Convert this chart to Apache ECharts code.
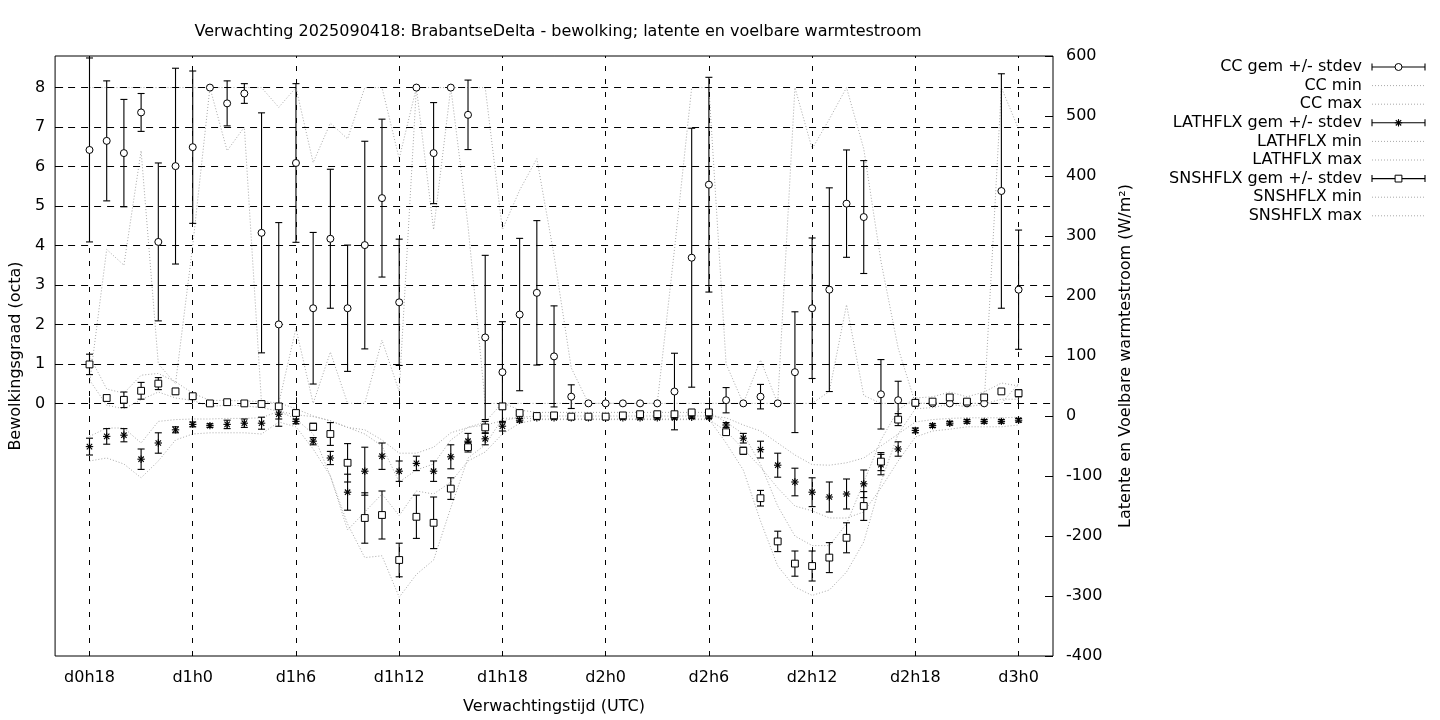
<!DOCTYPE html>
<html><head><meta charset="utf-8">
<script src="https://cdn.jsdelivr.net/npm/echarts@6/dist/echarts.min.js"></script>
<style>html,body{margin:0;padding:0;background:#fff}#c{width:1440px;height:720px}</style>
</head><body><div id="c"></div>
<script>
// ---------------- data ----------------
const hours = [18,19,20,21,22,23,24,25,26,27,28,29,30,31,32,33,34,35,36,37,38,39,40,41,42,43,44,45,46,47,48,49,50,51,52,53,54,55,56,57,58,59,60,61,62,63,64,65,66,67,68,69,70,71,72];
const tickHours = [18,24,30,36,42,48,54,60,66,72];
const tickLabels = ['d0h18','d1h0','d1h6','d1h12','d1h18','d2h0','d2h6','d2h12','d2h18','d3h0'];
const ccTicks = [0,1,2,3,4,5,6,7,8];

const ccMean = [6.42,6.65,6.34,7.37,4.09,6.01,6.49,8.00,7.60,7.85,4.32,2.00,6.09,2.41,4.17,2.41,4.01,5.20,2.56,8.00,6.34,8.00,7.31,1.67,0.79,2.25,2.80,1.19,0.17,0,0,0,0,0,0.30,3.69,5.54,0.08,0,0.17,0,0.79,2.41,2.88,5.06,4.72,0.23,0.08,0,0,0,0,0,5.38,2.88];
const ccSd   = [2.33,1.52,1.36,0.48,2.00,2.48,1.93,0,0.57,0.25,3.04,2.58,2.01,1.92,1.76,1.60,2.63,2.00,1.60,0,1.28,0,0.88,2.08,1.28,1.93,1.83,1.28,0.30,0,0,0,0,0,0.97,3.28,2.72,0.32,0,0.31,0,1.53,1.78,2.58,1.36,1.43,0.88,0.48,0,0,0,0,0,2.97,1.51];
const ccMin  = [0.5,3.9,3.5,6.4,1.0,0.5,4.0,8,6.4,7.0,0,0,1.9,0,1.3,0,0,1.6,0.3,8,4.4,8,4.5,0,0,0,0,0,0,0,0,0,0,0,0,0,0,0,0,0,0,0,0,0.3,2.5,0.2,0,0,0,0,0,0,0,0,0.5];
const ccMax  = [8,8,8,8,8,8,8,8,8,8,8,7.5,8,6.1,7.1,6.7,8,8,6.2,8,8,8,8,8,4.4,5.4,6.2,3.75,0.9,0,0,0,0,0,3.9,8,8,1.0,0,1.1,0,8,6.45,7.2,8,6.45,3.6,1.4,0,0,0,0,0,8,6.95];

const latMean = [-51,-34,-32,-72,-45,-23,-14,-16,-14,-12,-12,3,-9,-42,-70,-127,-92,-67,-92,-79,-92,-68,-42,-38,-17,-7,-3,-3,-3,-3,-3,-3,-3,-3,-3,-2,-2,-15,-37,-56,-82,-110,-127,-135,-130,-113,-81,-55,-24,-16,-12,-9,-9,-9,-7];
const latSd   = [14,13,11,17,17,5,4,3,7,7,10,8,4,6,11,30,40,22,17,12,17,20,13,10,8,3,2,2,2,2,2,2,2,2,2,2,2,4,8,14,20,23,24,25,25,23,17,12,4,3,3,3,3,3,3];
const latMin  = [-75,-70,-80,-103,-75,-40,-30,-28,-28,-28,-30,-10,-18,-55,-100,-190,-160,-130,-166,-125,-130,-110,-75,-60,-30,-12,-6,-6,-6,-6,-6,-6,-6,-6,-6,-6,-6,-25,-55,-85,-120,-150,-158,-170,-170,-160,-120,-75,-35,-25,-22,-18,-18,-18,-15];
const latMax  = [-34,-20,-20,-45,-9,-6,-5,-5,-4,-4,-3,8,2,-1,-8,-19,-23,-40,-62,-62,-52,-28,-19,-15,-8,-2,0,0,0,0,0,0,0,0,0,0,0,-3,-15,-25,-45,-65,-81,-82,-78,-70,-50,-30,-10,-6,-4,-3,-3,-3,-2];

const snsMean = [86,30,27,42,54,41,33,21,23,21,20,16,5,-18,-30,-78,-170,-165,-240,-168,-178,-121,-52,-19,16,5,0,1,-1,-1,-1,1,3,3,3,6,6,-27,-58,-137,-209,-246,-250,-236,-203,-150,-76,-6,22,24,31,24,31,41,38];
const snsSd   = [17,5,13,14,10,5,4,3,3,3,4,4,4,6,19,32,42,40,28,36,43,18,8,10,5,3,2,2,2,2,2,2,2,2,2,2,2,4,6,13,17,21,25,25,25,24,15,10,3,3,4,3,4,3,6];
const snsMin  = [60,18,12,27,40,30,26,16,18,17,14,8,-5,-30,-100,-180,-236,-233,-302,-264,-240,-153,-70,-48,-4,-3,-5,-5,-5,-5,-5,-5,-5,-5,-5,-5,-5,-45,-90,-175,-250,-285,-299,-290,-260,-210,-110,-30,12,14,20,15,20,28,28];
const snsMax  = [100,45,38,68,71,57,38,26,26,25,24,22,12,0,-8,-19,-30,-50,-110,-90,-80,-40,-19,-10,22,10,6,6,6,6,6,6,6,6,6,6,6,-10,-30,-80,-150,-200,-216,-216,-180,-110,-40,10,30,32,40,32,40,55,50];

const titleText = 'Verwachting 2025090418: BrabantseDelta - bewolking; latente en voelbare warmtestroom';
const legendNames = ['CC gem +/- stdev','CC min','CC max','LATHFLX gem +/- stdev','LATHFLX min','LATHFLX max','SNSHFLX gem +/- stdev','SNSHFLX min','SNSHFLX max'];

// ---------------- helpers ----------------
const FONT = 'DejaVu Sans';
const FS = 16;
const DOT = '#a8a8a8';
const DOTTYPE = [1, 2];

function markerShape(kind, x, y) {
  const st = {stroke:'#000', lineWidth:1, fill:'#fff'};
  if (kind === 'circle') return {type:'circle', shape:{cx:x, cy:y, r:3.5}, style:st};
  if (kind === 'square') return {type:'rect', shape:{x:x-3.4, y:y-3.4, width:6.8, height:6.8}, style:st};
  const r = 3.7, d = 2.7, ls = {stroke:'#000', lineWidth:1.1};
  return {type:'group', children:[
    {type:'line', shape:{x1:x-r,y1:y,x2:x+r,y2:y}, style:ls},
    {type:'line', shape:{x1:x,y1:y-r,x2:x,y2:y+r}, style:ls},
    {type:'line', shape:{x1:x-d,y1:y-d,x2:x+d,y2:y+d}, style:ls},
    {type:'line', shape:{x1:x-d,y1:y+d,x2:x+d,y2:y-d}, style:ls}
  ]};
}
function makeRender(kind) {
  return function (params, api) {
    const x = api.value(0), m = api.value(1), s = api.value(2);
    const c = api.coord([x, m]);
    const kids = [];
    if (s > 0) {
      const t = api.coord([x, m + s])[1], b = api.coord([x, m - s])[1];
      const st = {stroke:'#000', lineWidth:1.1};
      kids.push({type:'line', shape:{x1:c[0],y1:t,x2:c[0],y2:b}, style:st});
      kids.push({type:'line', shape:{x1:c[0]-3.5,y1:t,x2:c[0]+3.5,y2:t}, style:st});
      kids.push({type:'line', shape:{x1:c[0]-3.5,y1:b,x2:c[0]+3.5,y2:b}, style:st});
    }
    kids.push(markerShape(kind, c[0], c[1]));
    return {type:'group', children:kids};
  };
}
const pairs = arr => hours.map((h, i) => [h, arr[i]]);
const triples = (m, s) => hours.map((h, i) => [h, m[i], s[i]]);
const lineSeries = (name, arr, yIdx, extra) => Object.assign({
  name, type:'line', data:pairs(arr), yAxisIndex:yIdx, showSymbol:false, symbol:'none',
  lineStyle:{color:DOT, width:1, type:DOTTYPE}, itemStyle:{color:DOT}, silent:true, z:2
}, extra || {});
const errSeries = (name, m, s, yIdx, kind) => ({
  name, type:'custom', yAxisIndex:yIdx, data:triples(m, s), renderItem:makeRender(kind),
  encode:{x:0, y:1}, silent:true, z:5
});
const txt = {fontFamily:FONT, fontSize:FS, color:'#000'};

// legend (drawn as graphic so that it is right-aligned like the reference)
const legendGraphics = [];
const lgTextX = 1362, lgX1 = 1372, lgX2 = 1425, lgY0 = 67, lgDy = 18.6;
legendNames.forEach((n, i) => {
  const y = lgY0 + i * lgDy;
  legendGraphics.push({type:'text', x:lgTextX, y:y, style:{text:n, textAlign:'right', textVerticalAlign:'middle', font:FS + 'px "' + FONT + '"', fill:'#000'}});
  if (i % 3 === 0) {
    const kind = ['circle','asterisk','square'][i / 3];
    const st = {stroke:'#000', lineWidth:1.1};
    legendGraphics.push({type:'line', shape:{x1:lgX1,y1:y,x2:lgX2,y2:y}, style:st});
    legendGraphics.push({type:'line', shape:{x1:lgX1,y1:y-3.5,x2:lgX1,y2:y+3.5}, style:st});
    legendGraphics.push({type:'line', shape:{x1:lgX2,y1:y-3.5,x2:lgX2,y2:y+3.5}, style:st});
    legendGraphics.push(markerShape(kind, (lgX1 + lgX2) / 2, y));
  } else {
    legendGraphics.push({type:'line', shape:{x1:lgX1,y1:y,x2:lgX2,y2:y}, style:{stroke:DOT, lineWidth:1, lineDash:DOTTYPE}});
  }
});

const option = {
  animation:false,
  backgroundColor:'#fff',
  title:{text:titleText, left:553, top:19, textAlign:'center', textStyle:{fontFamily:FONT, fontSize:FS, fontWeight:'normal', color:'#000'}},
  grid:{left:54, right:387, top:56, bottom:61, show:true, borderColor:'#000', borderWidth:1, backgroundColor:'transparent'},
  xAxis:[
    {type:'value', min:16, max:74, position:'bottom',
     axisLine:{show:false},
     axisTick:{inside:true, length:6, customValues:tickHours, lineStyle:{color:'#000'}},
     axisLabel:Object.assign({customValues:tickHours, margin:14, formatter:v => tickLabels[tickHours.indexOf(v)] || ''}, txt),
     splitLine:{show:false},
     name:'Verwachtingstijd (UTC)', nameLocation:'middle', nameGap:43, nameTextStyle:txt},
    {type:'value', min:16, max:74, position:'top',
     axisLine:{show:false},
     axisTick:{inside:true, length:6, customValues:tickHours, lineStyle:{color:'#000'}},
     axisLabel:{show:false}, splitLine:{show:false}}
  ],
  yAxis:[
    {type:'value', min:-6.4, max:8.8, position:'left',
     axisLine:{show:false},
     axisTick:{inside:true, length:8, customValues:ccTicks, lineStyle:{color:'#000'}},
     axisLabel:Object.assign({customValues:ccTicks, margin:10}, txt),
     splitLine:{show:false},
     name:'Bewolkingsgraad (octa)', nameLocation:'middle', nameGap:24, nameRotate:90, nameTextStyle:txt},
    {type:'value', min:-400, max:600, interval:100, position:'right',
     axisLine:{show:false},
     axisTick:{inside:true, length:8, lineStyle:{color:'#000'}},
     axisLabel:Object.assign({margin:13}, txt),
     splitLine:{show:false},
     name:'Latente en Voelbare warmtestroom (W/m²)', nameLocation:'middle', nameGap:65, nameRotate:90, nameTextStyle:txt}
  ],
  series:[
    lineSeries('CC min', ccMin, 0, {markLine:{silent:true, symbol:['none','none'], label:{show:false}, animation:false,
      lineStyle:{type:[5,8], color:'#000', width:1}, emphasis:{disabled:true},
      data:tickHours.map(h => ({xAxis:h}))}}),
    lineSeries('CC max', ccMax, 0, {markLine:{silent:true, symbol:['none','none'], label:{show:false}, animation:false,
      lineStyle:{type:[7,6], color:'#000', width:1}, emphasis:{disabled:true},
      data:ccTicks.map(v => ({yAxis:v}))}}),
    lineSeries('LATHFLX min', latMin, 1),
    lineSeries('LATHFLX max', latMax, 1),
    lineSeries('SNSHFLX min', snsMin, 1),
    lineSeries('SNSHFLX max', snsMax, 1),
    errSeries('CC gem +/- stdev', ccMean, ccSd, 0, 'circle'),
    errSeries('LATHFLX gem +/- stdev', latMean, latSd, 1, 'asterisk'),
    errSeries('SNSHFLX gem +/- stdev', snsMean, snsSd, 1, 'square')
  ],
  graphic:legendGraphics
};
const chart = echarts.init(document.getElementById('c'), null, {renderer:'canvas'});
chart.setOption(option);
</script>
</body></html>
